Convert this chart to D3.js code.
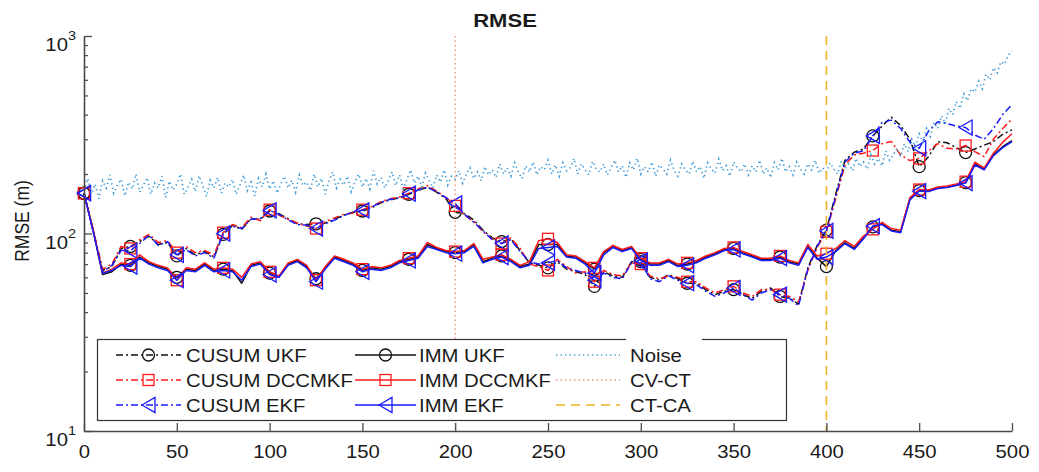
<!DOCTYPE html>
<html>
<head>
<meta charset="utf-8">
<script src="https://cdn.jsdelivr.net/npm/d3@7"></script>
<style>
  body { margin: 0; background: #fff; }
  svg { display: block; }
  text { font-family: "Liberation Sans", Arial, Helvetica, sans-serif; }
</style>
</head>
<body>
<svg id="chart" width="1039" height="472"></svg>
<script>
// Time steps for the filter RMSE curves (every 5 steps)
const steps = d3.range(0, 501, 5);

// RMSE (m) of each filter, one value per step above
const cusumUKF = [
  160,103,65,68,84,86,91,97,88,90,
  77,84,78,81,76,99,110,105,119,118,
  130,126,119,112,111,112,113,118,124,128,
  130,135,143,148,152,158,165,172,162,150,
  128,126,117,104,95,91,94,82,71,69,
  67,72,66,64,62,54,64,61,60,72,
  72,60,58,62,59,56,56,52,49,51,
  52,49,47,51,53,48,47,44,67,87,
  104,158,235,258,268,312,350,388,352,300,
  218,245,292,288,272,257,268,280,292,318,
  335];
const cusumDCCMKF = [
  160,104,66,70,86,84,93,99,90,92,
  80,86,80,82,78,101,111,107,121,116,
  132,124,118,113,109,106,115,120,125,127,
  132,137,145,150,153,160,168,175,164,152,
  138,124,115,102,94,89,95,84,70,68,
  65,74,68,63,64,57,65,62,61,71,
  70,61,59,61,60,57,57,53,50,52,
  54,50,48,52,52,49,48,45,65,85,
  102,150,222,250,255,263,285,292,250,234,
  240,262,285,270,268,279,260,245,300,340,
  380];
const cusumEKF = [
  160,102,64,69,82,82,89,98,87,91,
  78,83,77,80,75,100,109,106,118,119,
  131,125,117,111,110,106,112,117,123,129,
  131,136,144,149,151,159,166,171,163,152,
  142,125,114,103,93,89,93,81,72,70,
  71,73,67,65,63,58,63,60,59,71,
  71,59,57,61,58,56,55,51,48,50,
  53,49,46,50,52,49,47,43,66,86,
  103,154,230,255,262,312,365,375,340,290,
  270,330,368,360,350,344,315,300,340,400,
  450];
const immUKF = [
  160,103,62,64,70,69,76,71,68,66,
  60,66,65,70,65,66,65,56,69,71,
  63,60,70,73,68,59,67,76,73,70,
  65,67,66,68,72,74,76,88,84,81,
  80,81,88,72,75,77,73,68,70,88,
  88,88,77,76,71,66,80,86,82,85,
  74,70,70,73,69,70,72,76,79,83,
  84,80,77,74,74,76,72,70,86,75,
  68,82,90,84,95,108,112,104,102,150,
  165,164,170,172,176,181,225,212,250,275,
  295];
const immDCCMKF = [
  160,104,63,66,71,70,78,72,69,67,
  58,67,66,71,66,67,66,60,70,72,
  64,61,71,74,69,58,68,77,74,71,
  66,68,67,69,73,75,77,90,85,82,
  81,82,89,74,76,78,74,69,72,92,
  94,90,78,77,72,67,81,87,83,86,
  75,71,71,74,70,71,73,77,80,84,
  85,81,78,75,75,77,73,71,88,77,
  79,84,92,86,97,105,114,106,104,152,
  167,166,172,174,178,183,230,215,255,290,
  320];
const immEKF = [
  160,102,63,65,69,68,75,70,67,65,
  58,65,64,69,64,65,64,58,68,70,
  62,60,69,72,67,57,66,75,72,69,
  64,66,65,67,71,73,75,86,83,80,
  79,80,86,71,74,76,72,67,69,84,
  85,86,76,75,70,63,78,85,81,84,
  73,69,69,72,68,69,71,75,78,82,
  83,79,76,73,73,75,71,69,85,74,
  76,81,89,83,94,109,111,103,101,148,
  164,163,169,171,175,180,222,210,248,272,
  292];

// Measurement noise RMSE (every 2 steps)
const noiseSteps = d3.range(0, 501, 2);
const noise = [
  165,190,158,178,150,185,170,198,160,176,188,155,182,168,200,162,175,192,158,180,
  170,195,152,184,166,178,200,158,172,188,163,196,175,154,186,170,192,160,180,172,
  188,158,176,198,165,182,155,190,172,200,168,185,160,178,195,170,186,162,198,175,
  182,165,200,172,190,158,185,205,170,188,176,195,163,182,200,172,190,168,208,178,
  192,170,185,205,175,198,168,188,210,180,195,172,202,185,170,198,182,210,176,195,
  188,208,180,200,215,190,205,185,218,198,210,192,225,200,215,195,228,205,190,220,
  205,230,198,218,210,235,200,222,195,228,208,215,240,200,225,210,198,232,212,205,
  225,198,215,235,205,220,192,228,210,240,200,218,205,230,195,222,212,200,235,208,
  195,225,210,200,232,205,218,190,228,212,202,238,208,220,195,230,215,205,225,198,
  220,205,235,200,215,192,228,210,240,205,218,198,230,212,200,225,210,235,202,215,
  205,228,212,200,232,215,225,208,240,218,230,212,250,225,240,220,262,235,250,270,
  245,285,260,300,275,320,290,340,310,365,340,395,360,430,400,465,430,510,470,540,
  520,590,540,640,600,690,650,740,720,800,
  840];

// Manoeuvre switch instants
const switchSteps = [200, 400];
const switchNames = ["CV-CT", "CT-CA"];

// Axis ticks
const xTickValues = d3.range(0, 501, 50);
const yMajorTicks = [10, 100, 1000];
const yExponents = ["1", "2", "3"];
const yMinorTicks = [20,30,40,50,60,70,80,90,200,300,400,500,600,700,800,900];

const seriesNames = ["CUSUM UKF", "CUSUM DCCMKF", "CUSUM EKF", "IMM UKF", "IMM DCCMKF", "IMM EKF"];
const seriesValues = [cusumUKF, cusumDCCMKF, cusumEKF, immUKF, immDCCMKF, immEKF];

const BLACK = "#111", RED = "#ff1a1a", BLUE = "#1a1aff";
const DASHDOT = "7,3,2,3";
const seriesStyle = [
  { color: BLACK, dash: DASHDOT, marker: "circle" },
  { color: RED,   dash: DASHDOT, marker: "square" },
  { color: BLUE,  dash: DASHDOT, marker: "triangle" },
  { color: BLACK, dash: null,    marker: "circle" },
  { color: RED,   dash: null,    marker: "square" },
  { color: BLUE,  dash: null,    marker: "triangle" }
];
const NOISE_COLOR = "#3d9ad8";
const switchStyle = [
  { color: "#ee9070", dash: "1.5,3", width: 1.3 },
  { color: "#efb22a", dash: "9,6", width: 1.6 }
];

const STRETCH = 1.16;
const FONT = 17.5;

const svg = d3.select("#chart");
const plot = { left: 84, right: 1012, top: 36, bottom: 431 };

const x = d3.scaleLinear().domain([0, 500]).range([plot.left, plot.right]);
const y = d3.scaleLog().domain([10, 1000]).range([plot.bottom, plot.top]);

const line = d3.line().x(d => x(d[0])).y(d => y(d[1]));

function drawMarker(g, type, cx, cy, color) {
  if (type === "circle") {
    g.append("circle").attr("cx", cx).attr("cy", cy).attr("r", 6)
      .attr("fill", "none").attr("stroke", color).attr("stroke-width", 1.3);
  } else if (type === "square") {
    g.append("rect").attr("x", cx - 5.5).attr("y", cy - 5.5)
      .attr("width", 11).attr("height", 11)
      .attr("fill", "none").attr("stroke", color).attr("stroke-width", 1.3);
  } else {
    g.append("path")
      .attr("d", `M${cx - 6.5},${cy} L${cx + 6.5},${cy - 7.5} L${cx + 6.5},${cy + 7.5} Z`)
      .attr("fill", "none").attr("stroke", color).attr("stroke-width", 1.3);
  }
}

function stretchedText(parent, tx, ty, str, opts = {}) {
  const t = parent.append("text")
    .attr("transform", `translate(${tx},${ty}) scale(${STRETCH},1)`)
    .attr("font-size", opts.size || FONT)
    .attr("text-anchor", opts.anchor || "start")
    .attr("fill", opts.fill || "#1a1a1a")
    .text(str);
  if (opts.weight) t.attr("font-weight", opts.weight);
  return t;
}

// Filter curves
const curves = svg.append("g");
seriesValues.forEach((vals, i) => {
  const st = seriesStyle[i];
  const pts = steps.map((s, k) => [s, vals[k]]);
  const path = curves.append("path").datum(pts)
    .attr("d", line).attr("fill", "none")
    .attr("stroke", st.color).attr("stroke-width", 1.5)
    .attr("stroke-linejoin", "round");
  if (st.dash) path.attr("stroke-dasharray", st.dash);
  const mg = curves.append("g");
  pts.filter(p => p[0] % 25 === 0 && p[0] < 500)
    .forEach(p => drawMarker(mg, st.marker, x(p[0]), y(p[1]), st.color));
});

// Noise
svg.append("path")
  .datum(noiseSteps.map((s, k) => [s, noise[k]]))
  .attr("d", line).attr("fill", "none")
  .attr("stroke", NOISE_COLOR).attr("stroke-width", 1.7)
  .attr("stroke-dasharray", "1.3,3.2");

// Switch instants
switchSteps.forEach((s, i) => {
  svg.append("line")
    .attr("x1", x(s)).attr("x2", x(s))
    .attr("y1", y(1000)).attr("y2", y(10))
    .attr("stroke", switchStyle[i].color)
    .attr("stroke-width", switchStyle[i].width)
    .attr("stroke-dasharray", switchStyle[i].dash);
});

// Axes
const AXIS_COLOR = "#4a4a4a";
const xAxis = svg.append("g")
  .attr("transform", `translate(0,${plot.bottom})`)
  .call(d3.axisBottom(x).tickValues(xTickValues)
    .tickSizeInner(-8).tickSizeOuter(0).tickPadding(15)
    .tickFormat(d3.format("d")));
xAxis.select(".domain").attr("stroke", AXIS_COLOR).attr("stroke-width", 1.6);
xAxis.selectAll(".tick line").attr("stroke", AXIS_COLOR).attr("stroke-width", 1.3);
xAxis.selectAll(".tick text")
  .attr("font-size", FONT).attr("fill", "#1a1a1a")
  .attr("font-family", "'Liberation Sans', Arial, sans-serif")
  .attr("transform", `scale(${STRETCH},1)`);

const yAxis = svg.append("g")
  .attr("transform", `translate(${plot.left},0)`)
  .call(d3.axisLeft(y).tickValues(yMajorTicks)
    .tickSizeInner(-8).tickSizeOuter(0).tickFormat(""));
yAxis.select(".domain").attr("stroke", AXIS_COLOR).attr("stroke-width", 1.6);
yAxis.selectAll(".tick line").attr("stroke", AXIS_COLOR).attr("stroke-width", 1.3);
const yMinor = svg.append("g")
  .attr("transform", `translate(${plot.left},0)`)
  .call(d3.axisLeft(y).tickValues(yMinorTicks)
    .tickSizeInner(-4).tickSizeOuter(0).tickFormat(""));
yMinor.select(".domain").remove();
yMinor.selectAll(".tick line").attr("stroke", AXIS_COLOR).attr("stroke-width", 1.2);

yMajorTicks.forEach((v, i) => {
  const t = svg.append("text")
    .attr("transform", `translate(76,${y(v) + 15}) scale(${STRETCH},1)`)
    .attr("text-anchor", "end").attr("font-size", FONT).attr("fill", "#1a1a1a");
  t.append("tspan").text("10");
  t.append("tspan").attr("dy", -11).attr("font-size", 12.5).text(yExponents[i]);
});

// Title and axis label
stretchedText(svg, 505, 27, "RMSE", { anchor: "middle", weight: "bold", size: 19 });
svg.append("text")
  .attr("transform", `translate(29,221) scale(${STRETCH},1) rotate(-90)`)
  .attr("text-anchor", "middle").attr("font-size", FONT).attr("fill", "#1a1a1a")
  .text("RMSE (m)");

// Legend
const legend = svg.append("g");
legend.append("rect")
  .attr("x", 97.5).attr("y", 339.5).attr("width", 689).attr("height", 81)
  .attr("fill", "#fff").attr("stroke", "#333").attr("stroke-width", 1.2);
legend.append("rect")
  .attr("x", 626).attr("y", 336).attr("width", 76).attr("height", 30).attr("fill", "#fff");

const legendCols = [
  { x1: 116, x2: 181, tx: 186 },
  { x1: 355, x2: 416, tx: 419 },
  { x1: 556, x2: 620, tx: 630 }
];
const legendRows = [355, 380, 405];

const legendItems = seriesNames.map((n, i) => ({ name: n, style: seriesStyle[i], kind: "series" }))
  .concat([{ name: "Noise", kind: "noise" }])
  .concat(switchNames.map((n, i) => ({ name: n, kind: "switch", style: switchStyle[i] })));

legendItems.forEach((item, i) => {
  const col = legendCols[Math.floor(i / 3)];
  const ry = legendRows[i % 3];
  const g = legend.append("g");
  const ln = g.append("line").attr("x1", col.x1).attr("x2", col.x2)
    .attr("y1", ry).attr("y2", ry);
  if (item.kind === "series") {
    ln.attr("stroke", item.style.color).attr("stroke-width", 1.5);
    if (item.style.dash) ln.attr("stroke-dasharray", item.style.dash);
    drawMarker(g, item.style.marker, (col.x1 + col.x2) / 2, ry, item.style.color);
  } else if (item.kind === "noise") {
    ln.attr("stroke", NOISE_COLOR).attr("stroke-width", 1.7).attr("stroke-dasharray", "1.3,3.2");
  } else {
    ln.attr("stroke", item.style.color).attr("stroke-width", item.style.width)
      .attr("stroke-dasharray", item.style.dash);
  }
  stretchedText(g, col.tx, ry + 6.5, item.name);
});
</script>
</body>
</html>
